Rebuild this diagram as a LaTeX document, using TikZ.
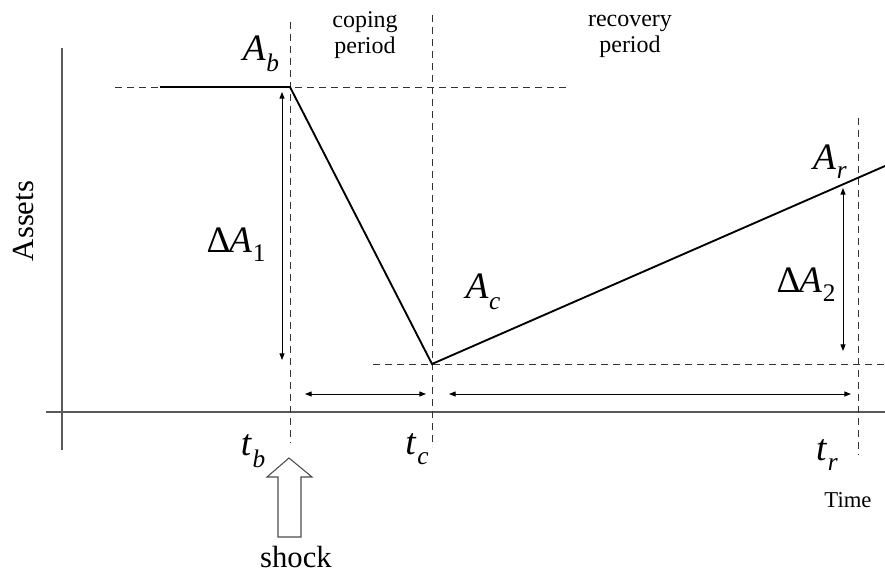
\documentclass[tikz,border=0pt]{standalone}
\usepackage{fontspec}
\setmainfont{Liberation Serif}
\usetikzlibrary{arrows.meta}

% italic symbol with a lowered subscript
\newcommand{\symsub}[3][9pt]{\textit{#2}\kern0.5pt\raisebox{-#1}{\fontsize{19}{19}\selectfont #3}}

\begin{document}
\begin{tikzpicture}[
    x=0.75pt, y=-0.75pt,
    axis/.style={draw=black!65, line width=0.9pt},
    guide/.style={draw=black!80, line width=0.7pt, dash pattern=on 5.5pt off 3.5pt},
    curve/.style={line width=1.4pt},
    dim/.style={{Triangle[length=5pt,width=3.8pt]}-{Triangle[length=5pt,width=3.8pt]}, line width=0.7pt},
    sym/.style={font=\fontsize{28}{30}\selectfont, inner sep=0pt},
    period/.style={font=\fontsize{18}{19.5}\selectfont, align=center, inner sep=0pt},
    hollow/.style={draw=black!70, fill=white, line width=0.8pt}
]
\useasboundingbox (0,0) rectangle (885,574);

% Key points of the curve
\coordinate (start) at (160,87);
\coordinate (Ab) at (290,87);
\coordinate (Ac) at (432,364);
\coordinate (Ar) at (858,178);
\coordinate (end) at (885,166);

% Axes
\coordinate (ytop) at (62,48);
\coordinate (ybot) at (62,450);
\coordinate (xleft) at (46,412);
\coordinate (xright) at (885,412);
\draw[axis] (ytop) -- (ybot);
\draw[axis] (xleft) -- (xright);

% Dashed guides
\draw[guide] (115,87) -- (568,87);
\draw[guide] (373,364) -- (885,364);
\draw[guide] (Ab |- 0,22) -- (Ab |- 0,443);
\draw[guide] (Ac |- 0,15) -- (Ac |- 0,447);
\draw[guide] (Ar |- 0,118) -- (Ar |- 0,455);

% Assets curve
\draw[curve] (start) -- (Ab) -- (Ac) -- (end);

% Dimension arrows
\coordinate (d1top) at (282,92);
\coordinate (d1bot) at (282,360);
\coordinate (d2top) at (843,188);
\coordinate (d2bot) at (843,351);
\coordinate (cpl) at (305,394);
\coordinate (cpr) at (426,394);
\coordinate (rcl) at (449,394);
\coordinate (rcr) at (851,394);
\draw[dim] (d1top) -- (d1bot);
\draw[dim] (d2top) -- (d2bot);
\draw[dim] (cpl) -- (cpr);
\draw[dim] (rcl) -- (rcr);

% Labels
\node[sym] (lAb) at (261,54) {\symsub[8pt]{A}{\textit{b}}};
\node[sym] (lAc) at (483,292) {\symsub[8pt]{A}{\textit{c}}};
\node[sym] (lAr) at (830,162) {\symsub[7pt]{A}{\textit{r}}};
\node[sym] (ldA1) at (236,245) {Δ\kern-1pt\symsub[7pt]{A}{1}};
\node[sym] (ldA2) at (806,285) {Δ\kern-1pt\symsub[7pt]{A}{2}};
\node[sym] (ltb) at (253,451) {\symsub[9pt]{t}{\textit{b}}};
\node[sym] (ltc) at (417,449) {\symsub[8pt]{t}{\textit{c}}};
\node[sym] (ltr) at (827,455) {\symsub[8pt]{t}{\textit{r}}};
\node[period] (coping) at (365,35) {coping\\period};
\node[period] (recovery) at (630,36) {recovery\\period};
\node[font=\fontsize{17}{17}\selectfont, inner sep=0pt] (time) at (848,500) {Time};
\node[font=\fontsize{23}{23}\selectfont, inner sep=0pt, rotate=90] (assets) at (24,221) {Assets};
\node[font=\fontsize{23}{23}\selectfont, inner sep=0pt] (shock) at (296,557) {shock};

% Shock arrow
\draw[hollow] (278,537) -- (278,477) -- (267,477) -- (289,458)
    -- (312,477) -- (301,477) -- (301,537) -- cycle;
\end{tikzpicture}
\end{document}
